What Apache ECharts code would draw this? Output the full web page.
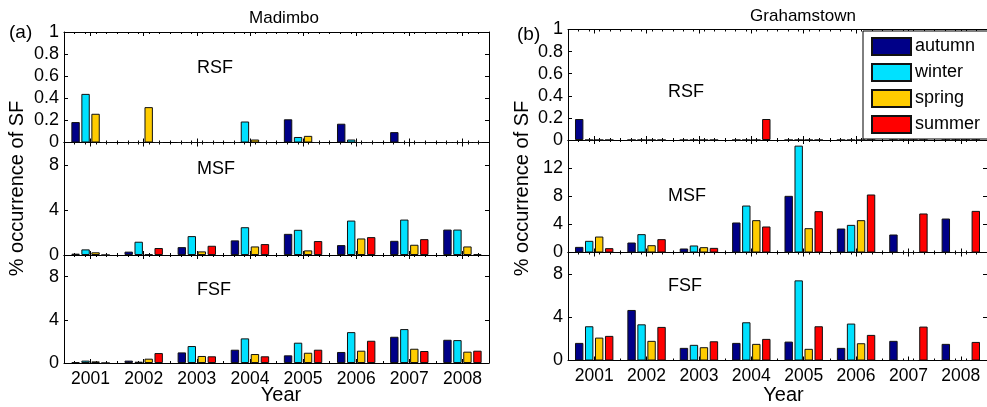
<!DOCTYPE html>
<html>
<head>
<meta charset="utf-8">
<script src="https://cdn.jsdelivr.net/npm/echarts@6/dist/echarts.min.js"></script>
<style>
html,body{margin:0;padding:0;background:#fff;}
#main{width:987px;height:407px;}
</style>
</head>
<body>
<div id="main"></div>
<script>
// ---- data ----
const years = ['2001','2002','2003','2004','2005','2006','2007','2008'];
const seasons = ['autumn','winter','spring','summer'];

// Madimbo
const madRSF_aut = [0.185, 0, 0, 0, 0.21, 0.17, 0.094, 0];
const madRSF_win = [0.44, 0, 0, 0.19, 0.05, 0.027, 0, 0];
const madRSF_spr = [0.26, 0.32, 0, 0.027, 0.06, 0, 0, 0];
const madRSF_sum = [0, 0, 0, 0, 0, 0, 0, 0];

const madMSF_aut = [0.12, 0.3, 0.7, 1.3, 1.88, 0.88, 1.26, 2.26];
const madMSF_win = [0.5, 1.18, 1.68, 2.47, 2.24, 3.06, 3.15, 2.26];
const madMSF_spr = [0.24, 0.06, 0.32, 0.76, 0.41, 1.47, 0.91, 0.76];
const madMSF_sum = [0, 0.62, 0.82, 0.97, 1.24, 1.59, 1.41, 0.09];

const madFSF_aut = [0.09, 0.22, 0.98, 1.23, 0.71, 1.02, 2.43, 2.15];
const madFSF_win = [0.22, 0.12, 1.57, 2.28, 1.88, 2.86, 3.14, 2.12];
const madFSF_spr = [0.15, 0.4, 0.65, 0.83, 0.95, 1.14, 1.32, 1.05];
const madFSF_sum = [0, 0.92, 0.62, 0.62, 1.23, 2.06, 1.11, 1.14];

// Grahamstown
const graRSF_aut = [0.19, 0, 0, 0, 0, 0, 0, 0];
const graRSF_win = [0, 0, 0, 0, 0, 0, 0, 0];
const graRSF_spr = [0, 0, 0, 0, 0, 0, 0, 0];
const graRSF_sum = [0, 0, 0, 0.19, 0, 0, 0, 0];

const graMSF_aut = [0.8, 1.42, 0.57, 4.27, 8.06, 3.41, 2.56, 4.83];
const graMSF_win = [1.66, 2.61, 1.0, 6.68, 15.2, 3.93, 0, 0];
const graMSF_spr = [2.27, 1.04, 0.76, 4.6, 3.46, 4.6, 0, 0];
const graMSF_sum = [0.62, 1.9, 0.66, 3.7, 5.88, 8.25, 5.55, 5.92];

const graFSF_aut = [1.63, 4.68, 1.17, 1.63, 1.75, 1.17, 1.82, 1.54];
const graFSF_win = [3.17, 3.35, 1.45, 3.54, 7.42, 3.42, 0, 0];
const graFSF_spr = [2.12, 1.82, 1.23, 1.54, 1.08, 1.6, 0, 0];
const graFSF_sum = [2.28, 3.11, 1.78, 2.0, 3.17, 2.37, 3.14, 1.72];

// y-axis scales per panel
const yMaxRSF = 1, yStepRSF = 0.2;
const yMaxMadMSF = 10, yMaxGraMSF = 16, yMaxFSF = 10, yStepSF = 4;

// ---- styling / layout ----
const colors = {autumn:'#000088', winter:'#00E1FF', spring:'#FFCC00', summer:'#FF0000'};
const FONT = 'Liberation Sans, Arial, Helvetica, sans-serif';

const panels = [
  {left:64, right:498, top:32,    height:110.5, max:yMaxRSF,    step:yStepRSF, showMax:true,  labels:false, data:[madRSF_aut,madRSF_win,madRSF_spr,madRSF_sum]},
  {left:64, right:498, top:142.5, height:112.5, max:yMaxMadMSF, step:yStepSF,  showMax:false, labels:false, data:[madMSF_aut,madMSF_win,madMSF_spr,madMSF_sum]},
  {left:64, right:498, top:255,   height:108,   max:yMaxFSF,    step:yStepSF,  showMax:false, labels:true,  data:[madFSF_aut,madFSF_win,madFSF_spr,madFSF_sum]},
  {left:568, right:-5, top:29.5,  height:110.5, max:yMaxRSF,    step:yStepRSF, showMax:true,  labels:false, data:[graRSF_aut,graRSF_win,graRSF_spr,graRSF_sum]},
  {left:568, right:-5, top:140,   height:112.5, max:yMaxGraMSF, step:yStepSF,  showMax:false, labels:false, data:[graMSF_aut,graMSF_win,graMSF_spr,graMSF_sum]},
  {left:568, right:-5, top:252.5, height:108,   max:yMaxFSF,    step:yStepSF,  showMax:false, labels:true,  data:[graFSF_aut,graFSF_win,graFSF_spr,graFSF_sum]}
];

const grid = [], xAxis = [], yAxis = [], series = [];
const lineStyle = {color:'#000', width:1};

panels.forEach((p, g) => {
  grid.push({left:p.left, right:p.right, top:p.top, height:p.height, containLabel:false});
  // major category axes (bottom + top)
  ['bottom','top'].forEach((pos) => {
    xAxis.push({
      type:'category', gridIndex:g, position:pos, data:years,
      axisLine:{show:true, onZero:false, lineStyle},
      axisTick:{show:true, inside:true, alignWithLabel:true, length:4, lineStyle},
      axisLabel:{show: pos === 'bottom' && p.labels, color:'#000', fontSize:17.5, fontFamily:FONT, margin:7},
      splitLine:{show:false}
    });
  });
  // minor tick axes (bottom + top)
  ['bottom','top'].forEach((pos) => {
    xAxis.push({
      type:'value', gridIndex:g, position:pos, min:0.5, max:8.5, interval:0.2,
      axisLine:{show:false, onZero:false},
      axisTick:{show:true, inside:true, length:2, lineStyle},
      axisLabel:{show:false}, splitLine:{show:false}
    });
  });
  ['left','right'].forEach((pos) => {
    yAxis.push({
      type:'value', gridIndex:g, position:pos, min:0, max:p.max, interval:p.step,
      axisLine:{show:true, onZero:false, lineStyle},
      axisTick:{show:true, inside:true, length:4, lineStyle},
      axisLabel:{show: pos === 'left', color:'#000', fontSize:18, fontFamily:FONT, margin:5,
                 showMaxLabel:p.showMax, showMinLabel:true},
      splitLine:{show:false}
    });
  });
  seasons.forEach((s, k) => {
    series.push({
      type:'bar', name:s, xAxisIndex:g*4, yAxisIndex:g*2,
      data:p.data[k], barWidth:8.4, barGap:'19%',
      itemStyle:{color:colors[s], borderColor:'#111', borderWidth:1},
      emphasis:{disabled:true}, animation:false
    });
  });
});

const txt = (text, x, y, opts) => Object.assign({
  type:'text', x, y,
  style:Object.assign({text, fill:'#000', font:'18px ' + FONT, textAlign:'left', textVerticalAlign:'middle'}, opts && opts.style)
}, opts && opts.el);

const graphic = [
  txt('(a)', 9, 33, {style:{font:'19px ' + FONT}}),
  txt('(b)', 517, 35, {style:{font:'19px ' + FONT}}),
  txt('Madimbo', 284, 18, {style:{textAlign:'center', font:'17px ' + FONT}}),
  txt('Grahamstown', 803, 16.5, {style:{textAlign:'center', font:'17px ' + FONT}}),
  txt('RSF', 197, 68.5),
  txt('MSF', 197, 169),
  txt('FSF', 197, 290),
  txt('RSF', 668, 92.5),
  txt('MSF', 668, 196.5),
  txt('FSF', 668, 286),
  txt('Year', 281, 395, {style:{textAlign:'center', font:'20px ' + FONT}}),
  txt('Year', 783.5, 395, {style:{textAlign:'center', font:'20px ' + FONT}}),
  txt('% occurrence of SF', 17.5, 188.5, {style:{textAlign:'center', font:'20px ' + FONT}, el:{rotation:Math.PI/2}}),
  txt('% occurrence of SF', 522.5, 188.5, {style:{textAlign:'center', font:'20px ' + FONT}, el:{rotation:Math.PI/2}})
];

const chart = echarts.init(document.getElementById('main'), null, {renderer:'canvas'});
chart.setOption({
  backgroundColor:'#fff',
  animation:false,
  textStyle:{fontFamily:FONT},
  grid, xAxis, yAxis, series, graphic,
  legend:{
    data:seasons, orient:'vertical', left:863, top:31,
    itemWidth:39, itemHeight:17, itemGap:7, padding:[6, 10, 5, 8],
    icon:'rect', borderColor:'#000', borderWidth:1, backgroundColor:'#fff',
    textStyle:{color:'#000', fontSize:18, fontFamily:FONT, padding:[0,0,0,-1]},
    selectedMode:false, z:10
  }
});
</script>
</body>
</html>
